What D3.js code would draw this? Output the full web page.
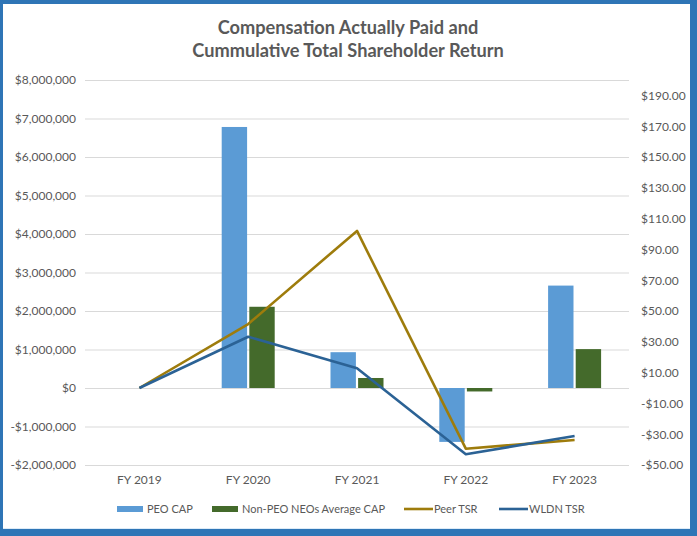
<!DOCTYPE html>
<html><head><meta charset="utf-8">
<script src="https://cdn.jsdelivr.net/npm/d3@7"></script>
<style>
html,body{margin:0;padding:0;background:#fff;}
svg{display:block;}
text{font-family:Lato,"Open Sans",sans-serif;}
</style></head>
<body><svg id="c" width="697" height="536"></svg>
<script>
const categories = ["FY 2019","FY 2020","FY 2021","FY 2022","FY 2023"];
const peoCap = [0, 6780000, 930000, -1400000, 2660000];
const nonPeoCap = [0, 2110000, 260000, -90000, 1010000];
const peerTsr = [0, 41.5, 102, -39.4, -33.8];
const wldnTsr = [0, 33.3, 12.8, -43, -31.2];
const leftTicks = [-2000000,-1000000,0,1000000,2000000,3000000,4000000,5000000,6000000,7000000,8000000];
const rightTicks = [-50,-30,-10,10,30,50,70,90,110,130,150,170,190];
const seriesNames = ["PEO CAP","Non-PEO NEOs Average CAP","Peer TSR","WLDN TSR"];
const colors = ["#5B9BD5","#446A2B","#9E7C0C","#2B6295"];

const svg = d3.select("#c");
const W=697,H=536;
svg.append("rect").attr("width",W).attr("height",H).attr("fill","#2E75B6");
svg.append("rect").attr("x",3).attr("y",4).attr("width",687).attr("height",525).attr("fill","#fff");
svg.append("line").attr("x1",3).attr("x2",690).attr("y1",528.5).attr("y2",528.5).attr("stroke","#DDEBF7").attr("stroke-width",1);

const L=85,R=629,T=80,B=465;
const x = d3.scaleBand().domain(categories).range([L,R]).padding(0);
const yL = d3.scaleLinear().domain([-2000000,8000000]).range([B,T]);
const yR = d3.scaleLinear().domain([-50,200]).range([B,T]);
const x1 = d3.scaleBand().domain([0,1]).range([-26.5,26.5]).paddingInner(0.08).paddingOuter(0);

const fmtL = v => (v<0?"-":"")+"$"+d3.format(",")(Math.abs(v));
const fmtR = v => (v<0?"-":"")+"$"+d3.format(".2f")(Math.abs(v));

// gridlines
svg.append("g").attr("transform",`translate(${L},0)`)
  .call(d3.axisLeft(yL).tickValues(leftTicks).tickSize(-(R-L)).tickFormat(""))
  .call(g=>{g.select(".domain").remove();g.selectAll("line").attr("stroke","#D9D9D9");});

// left axis labels
svg.append("g").attr("transform",`translate(${L},0)`)
  .call(d3.axisLeft(yL).tickValues(leftTicks).tickSize(0).tickPadding(9).tickFormat(fmtL))
  .call(g=>{g.select(".domain").remove();g.selectAll("text").attr("fill","#595959").style("font-size","12px").style("font-family","Lato,sans-serif");});

// right axis labels
svg.append("g").attr("transform",`translate(${R},0)`)
  .call(d3.axisRight(yR).tickValues(rightTicks).tickSize(0).tickPadding(12).tickFormat(fmtR))
  .call(g=>{g.select(".domain").remove();g.selectAll("text").attr("fill","#595959").style("font-size","12px").style("font-family","Lato,sans-serif");});

// x axis labels
svg.append("g").attr("transform",`translate(0,${B})`)
  .call(d3.axisBottom(x).tickSize(0).tickPadding(10))
  .call(g=>{g.select(".domain").remove();g.selectAll("text").attr("fill","#595959").style("font-size","12px").style("font-family","Lato,sans-serif");});

// bars
const barSeries=[peoCap,nonPeoCap];
barSeries.forEach((vals,si)=>{
  svg.append("g").selectAll("rect").data(vals).join("rect")
    .attr("x",(d,i)=>x(categories[i])+x.bandwidth()/2+x1(si))
    .attr("width",x1.bandwidth())
    .attr("y",d=>Math.min(yL(d),yL(0)))
    .attr("height",d=>Math.abs(yL(d)-yL(0)))
    .attr("fill",colors[si]);
});

// lines
const line = d3.line().x((d,i)=>x(categories[i])+x.bandwidth()/2).y(d=>yR(d));
[peerTsr,wldnTsr].forEach((vals,k)=>{
  svg.append("path").datum(vals).attr("d",line).attr("fill","none")
    .attr("stroke",colors[k+2]).attr("stroke-width",2.6).attr("stroke-linejoin","round");
});

// title
const title = svg.append("text").attr("x",348).attr("text-anchor","middle")
  .attr("fill","#595959").style("font-size","18.2px").style("font-weight","bold");
title.append("tspan").attr("x",348).attr("y",34).text("Compensation Actually Paid and");
title.append("tspan").attr("x",348).attr("y",57).text("Cummulative Total Shareholder Return");

// legend
const legX=[117,212,404,499];
const lg = svg.append("g");
seriesNames.forEach((n,i)=>{
  if(i<2){
    lg.append("rect").attr("x",legX[i]).attr("y",506).attr("width",26).attr("height",6).attr("fill",colors[i]);
    lg.append("text").attr("x",legX[i]+30).attr("y",513).text(n).attr("fill","#595959").style("font-size","11px");
  } else {
    lg.append("line").attr("x1",legX[i]).attr("x2",legX[i]+29).attr("y1",509).attr("y2",509).attr("stroke",colors[i]).attr("stroke-width",2.6);
    lg.append("text").attr("x",legX[i]+30).attr("y",513).text(n).attr("fill","#595959").style("font-size","11px");
  }
});
</script></body></html>
